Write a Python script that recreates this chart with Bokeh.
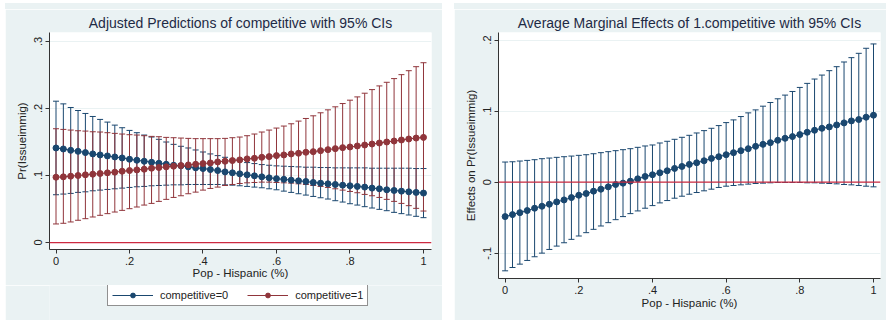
from bokeh.plotting import figure
from bokeh.models import (ColumnDataSource, Whisker, TeeHead, FixedTicker,
                          Legend, LegendItem, Span, Spacer)
from bokeh.layouts import row, column
from bokeh.embed import file_html
from bokeh.resources import INLINE

# ---------------- data ----------------
hisp = [0.00, 0.02, 0.04, 0.06, 0.08, 0.10, 0.12, 0.14, 0.16, 0.18,
        0.20, 0.22, 0.24, 0.26, 0.28, 0.30, 0.32, 0.34, 0.36, 0.38,
        0.40, 0.42, 0.44, 0.46, 0.48, 0.50, 0.52, 0.54, 0.56, 0.58,
        0.60, 0.62, 0.64, 0.66, 0.68, 0.70, 0.72, 0.74, 0.76, 0.78,
        0.80, 0.82, 0.84, 0.86, 0.88, 0.90, 0.92, 0.94, 0.96, 0.98, 1.00]

comp0 = [0.1411, 0.1396, 0.1376, 0.1361, 0.1342, 0.1322, 0.1307, 0.1292, 0.1277, 0.1262,
         0.1243, 0.1228, 0.1213, 0.1198, 0.1183, 0.1168, 0.1153, 0.1144, 0.1129, 0.1114,
         0.1104, 0.1089, 0.1074, 0.1054, 0.1040, 0.1025, 0.1010, 0.0995, 0.0980, 0.0965,
         0.0953, 0.0943, 0.0931, 0.0921, 0.0911, 0.0896, 0.0886, 0.0876, 0.0866, 0.0856,
         0.0847, 0.0837, 0.0827, 0.0812, 0.0802, 0.0787, 0.0777, 0.0767, 0.0757, 0.0748, 0.0738]
comp0_hi = [0.2109, 0.2069, 0.2015, 0.1970, 0.1926, 0.1881, 0.1837, 0.1797, 0.1752, 0.1713,
            0.1673, 0.1639, 0.1604, 0.1574, 0.1540, 0.1500, 0.1465, 0.1436, 0.1411, 0.1381,
            0.1351, 0.1322, 0.1297, 0.1272, 0.1243, 0.1223, 0.1193, 0.1178, 0.1163, 0.1153,
            0.1144, 0.1139, 0.1134, 0.1129, 0.1124, 0.1124, 0.1119, 0.1119, 0.1114, 0.1114,
            0.1114, 0.1114, 0.1114, 0.1109, 0.1109, 0.1109, 0.1109, 0.1109, 0.1109, 0.1104, 0.1104]
comp0_lo = [0.0713, 0.0723, 0.0733, 0.0748, 0.0757, 0.0772, 0.0782, 0.0792, 0.0802, 0.0812,
            0.0822, 0.0832, 0.0837, 0.0847, 0.0851, 0.0856, 0.0861, 0.0861, 0.0866, 0.0866,
            0.0866, 0.0866, 0.0866, 0.0861, 0.0856, 0.0847, 0.0837, 0.0827, 0.0817, 0.0802,
            0.0787, 0.0767, 0.0748, 0.0728, 0.0708, 0.0688, 0.0668, 0.0649, 0.0624, 0.0604,
            0.0579, 0.0559, 0.0535, 0.0515, 0.0495, 0.0475, 0.0450, 0.0431, 0.0411, 0.0391, 0.0371]

comp1 = [0.0975, 0.0980, 0.0990, 0.1000, 0.1010, 0.1020, 0.1030, 0.1040, 0.1050, 0.1064,
         0.1074, 0.1084, 0.1094, 0.1109, 0.1119, 0.1129, 0.1139, 0.1149, 0.1158, 0.1168,
         0.1178, 0.1188, 0.1203, 0.1213, 0.1223, 0.1233, 0.1248, 0.1257, 0.1272, 0.1282,
         0.1297, 0.1307, 0.1322, 0.1332, 0.1347, 0.1356, 0.1371, 0.1386, 0.1401, 0.1416,
         0.1426, 0.1441, 0.1455, 0.1470, 0.1485, 0.1500, 0.1515, 0.1530, 0.1545, 0.1559, 0.1569]
comp1_hi = [0.1698, 0.1688, 0.1678, 0.1668, 0.1663, 0.1653, 0.1649, 0.1639, 0.1629, 0.1619,
            0.1609, 0.1604, 0.1594, 0.1584, 0.1579, 0.1569, 0.1564, 0.1559, 0.1554, 0.1550,
            0.1550, 0.1550, 0.1550, 0.1554, 0.1564, 0.1574, 0.1594, 0.1619, 0.1649, 0.1678,
            0.1708, 0.1738, 0.1772, 0.1812, 0.1851, 0.1891, 0.1936, 0.1980, 0.2025, 0.2074,
            0.2124, 0.2173, 0.2228, 0.2282, 0.2337, 0.2391, 0.2446, 0.2505, 0.2564, 0.2624, 0.2683]
comp1_lo = [0.0277, 0.0287, 0.0307, 0.0332, 0.0356, 0.0381, 0.0406, 0.0431, 0.0455, 0.0480,
            0.0505, 0.0530, 0.0559, 0.0584, 0.0614, 0.0644, 0.0673, 0.0698, 0.0728, 0.0752,
            0.0782, 0.0807, 0.0827, 0.0851, 0.0866, 0.0881, 0.0891, 0.0896, 0.0901, 0.0901,
            0.0896, 0.0891, 0.0886, 0.0876, 0.0866, 0.0851, 0.0837, 0.0822, 0.0802, 0.0782,
            0.0762, 0.0743, 0.0718, 0.0698, 0.0673, 0.0644, 0.0614, 0.0584, 0.0550, 0.0510, 0.0470]

ame = [-0.0485, -0.0457, -0.0429, -0.0400, -0.0367, -0.0339, -0.0311, -0.0278, -0.0250, -0.0217,
       -0.0184, -0.0160, -0.0127, -0.0099, -0.0066, -0.0033, -0.0014, 0.0014, 0.0047, 0.0080,
       0.0104, 0.0132, 0.0160, 0.0193, 0.0221, 0.0250, 0.0273, 0.0301, 0.0334, 0.0358,
       0.0386, 0.0415, 0.0443, 0.0471, 0.0504, 0.0532, 0.0556, 0.0589, 0.0617, 0.0641,
       0.0669, 0.0702, 0.0730, 0.0758, 0.0777, 0.0805, 0.0834, 0.0862, 0.0881, 0.0914, 0.0942]
ame_hi = [0.0283, 0.0287, 0.0297, 0.0306, 0.0316, 0.0330, 0.0339, 0.0349, 0.0358, 0.0367,
          0.0377, 0.0386, 0.0400, 0.0415, 0.0429, 0.0443, 0.0457, 0.0471, 0.0490, 0.0509,
          0.0523, 0.0551, 0.0575, 0.0603, 0.0631, 0.0659, 0.0692, 0.0725, 0.0758, 0.0796,
          0.0838, 0.0876, 0.0923, 0.0975, 0.1017, 0.1069, 0.1121, 0.1173, 0.1225, 0.1276,
          0.1333, 0.1390, 0.1451, 0.1507, 0.1569, 0.1625, 0.1691, 0.1752, 0.1813, 0.1884, 0.1945]
ame_lo = [-0.1248, -0.1201, -0.1154, -0.1102, -0.1050, -0.0999, -0.0947, -0.0900, -0.0853, -0.0805,
          -0.0758, -0.0711, -0.0664, -0.0617, -0.0570, -0.0528, -0.0485, -0.0443, -0.0405, -0.0367,
          -0.0330, -0.0292, -0.0259, -0.0226, -0.0198, -0.0170, -0.0146, -0.0122, -0.0099, -0.0075,
          -0.0057, -0.0047, -0.0038, -0.0028, -0.0019, -0.0014, -0.0009, -0.0005, -0.0005, -0.0005,
          -0.0005, -0.0009, -0.0009, -0.0014, -0.0019, -0.0024, -0.0033, -0.0038, -0.0047, -0.0057, -0.0066]

x_ticks = [0, 0.2, 0.4, 0.6, 0.8, 1]
x_tick_labels = ["0", ".2", ".4", ".6", ".8", "1"]
y1_ticks = [0, 0.1, 0.2, 0.3]
y1_tick_labels = ["0", ".1", ".2", ".3"]
y2_ticks = [-0.1, 0, 0.1, 0.2]
y2_tick_labels = ["-.1", "0", ".1", ".2"]
legend_labels = ["competitive=0", "competitive=1"]

# ---------------- style ----------------
BG = "#EAF2F3"
NAVY = "#1A476F"
MAROON = "#90353B"
REDLINE = "#CC2A40"
FONT = "Liberation Sans"
TXT = "#222222"


def style(p, xt, xl, yt, yl, title_offset, xlab_standoff):
    p.background_fill_color = "white"
    p.border_fill_color = BG
    p.outline_line_color = None
    p.title.text_font = FONT
    p.title.text_font_size = "14px"
    p.title.text_font_style = "normal"
    p.title.text_color = "#1E2A45"
    p.title.align = "center"
    p.title.offset = title_offset
    p.title.standoff = 3
    p.xgrid.visible = False
    p.ygrid.grid_line_color = BG
    p.ygrid.grid_line_width = 1
    p.xaxis.ticker = FixedTicker(ticks=xt)
    p.xaxis.major_label_overrides = dict(zip(xt, xl))
    p.yaxis.ticker = FixedTicker(ticks=yt)
    p.yaxis.major_label_overrides = dict(zip(yt, yl))
    p.ygrid.ticker = FixedTicker(ticks=yt)
    p.yaxis.major_label_orientation = "vertical"
    for ax in (p.xaxis, p.yaxis):
        ax.axis_line_color = "#333333"
        ax.axis_line_width = 1
        ax.major_tick_line_color = "#333333"
        ax.major_tick_out = 4
        ax.major_tick_in = 0
        ax.minor_tick_line_color = None
        ax.major_label_text_font = FONT
        ax.major_label_text_font_size = "11px"
        ax.major_label_text_color = TXT
        ax.axis_label_text_font = FONT
        ax.axis_label_text_font_size = "11.5px"
        ax.axis_label_text_font_style = "normal"
        ax.axis_label_text_color = TXT
        ax.major_label_standoff = 3
    p.yaxis.axis_label_standoff = 4
    p.xaxis.axis_label_standoff = xlab_standoff


def errbars(p, xs, lo, hi, color):
    src = ColumnDataSource(dict(x=xs, lo=lo, hi=hi))
    w = Whisker(base="x", lower="lo", upper="hi", source=src,
                line_color=color, line_width=1,
                upper_head=TeeHead(size=6, line_color=color, line_width=1),
                lower_head=TeeHead(size=6, line_color=color, line_width=1))
    p.add_layout(w)


def bg_strip(w, h):
    return Spacer(width=w, height=h, styles={"background-color": BG})


# ---------------- left panel ----------------
p1 = figure(frame_width=382, frame_height=217, output_backend="svg", toolbar_location=None,
            x_range=(-0.0177, 1.0218), y_range=(-0.0104, 0.3134),
            title="Adjusted Predictions of competitive with 95% CIs",
            min_border_left=44, min_border_right=11, min_border_top=23,
            min_border_bottom=36)
style(p1, x_ticks, x_tick_labels, y1_ticks, y1_tick_labels, -18, -1)
p1.xaxis.axis_label = "Pop - Hispanic (%)"
p1.yaxis.axis_label = "Pr(Issueimmig)"

errbars(p1, hisp, comp0_lo, comp0_hi, NAVY)
errbars(p1, hisp, comp1_lo, comp1_hi, MAROON)
p1.line(hisp, comp0, line_color=NAVY, line_width=1)
p1.scatter(hisp, comp0, size=6, fill_color=NAVY, line_color=NAVY)
p1.line(hisp, comp1, line_color=MAROON, line_width=1)
p1.scatter(hisp, comp1, size=6, fill_color=MAROON, line_color=MAROON)
p1.add_layout(Span(location=0, dimension="width", line_color=REDLINE, line_width=1.3))

# legend strip below the left graph (Stata puts the legend outside the plot region).
# Its key renderers reuse the series but the view range keeps them out of sight.
lf = figure(frame_width=437, frame_height=35, output_backend="svg", toolbar_location=None,
            x_axis_type=None, y_axis_type=None, x_range=(0, 1), y_range=(5, 6),
            min_border=0, min_border_left=0, min_border_right=0,
            min_border_top=0, min_border_bottom=0)
lf.background_fill_color = BG
lf.border_fill_color = BG
lf.outline_line_color = None
k0l = lf.line(hisp, comp0, line_color=NAVY, line_width=1)
k0s = lf.scatter(hisp, comp0, size=6, fill_color=NAVY, line_color=NAVY)
k1l = lf.line(hisp, comp1, line_color=MAROON, line_width=1)
k1s = lf.scatter(hisp, comp1, size=6, fill_color=MAROON, line_color=MAROON)
leg = Legend(items=[LegendItem(label=legend_labels[0], renderers=[k0l, k0s]),
                    LegendItem(label=legend_labels[1], renderers=[k1l, k1s])],
             orientation="horizontal", location=(102, 14),
             border_line_color="#222222", border_line_width=1,
             background_fill_color="white", background_fill_alpha=1,
             label_text_font=FONT, label_text_font_size="11px",
             label_text_color=TXT, glyph_width=41, glyph_height=12,
             spacing=19, padding=4, margin=0, label_standoff=7,
             label_height=12)
lf.add_layout(leg, "center")

# ---------------- right panel ----------------
p2 = figure(frame_width=382, frame_height=246, output_backend="svg", toolbar_location=None,
            x_range=(-0.018, 1.019), y_range=(-0.1356, 0.2106),
            title="Average Marginal Effects of 1.competitive with 95% CIs",
            min_border_left=44, min_border_right=6, min_border_top=23,
            min_border_bottom=42)
style(p2, x_ticks, x_tick_labels, y2_ticks, y2_tick_labels, -16, 0)
p2.xaxis.axis_label = "Pop - Hispanic (%)"
p2.yaxis.axis_label = "Effects on Pr(Issueimmig)"

errbars(p2, hisp, ame_lo, ame_hi, NAVY)
p2.line(hisp, ame, line_color=NAVY, line_width=1)
p2.scatter(hisp, ame, size=6, fill_color=NAVY, line_color=NAVY)
p2.add_layout(Span(location=0, dimension="width", line_color=REDLINE, line_width=1.3))

left = column(bg_strip(437, 6), p1, lf, spacing=0)
right = column(bg_strip(432, 6), p2, spacing=0)
layout = column(Spacer(height=3),
                row(Spacer(width=5), left, Spacer(width=12), right, spacing=0),
                spacing=0)
open("out.html", "w").write(file_html(layout, INLINE))
